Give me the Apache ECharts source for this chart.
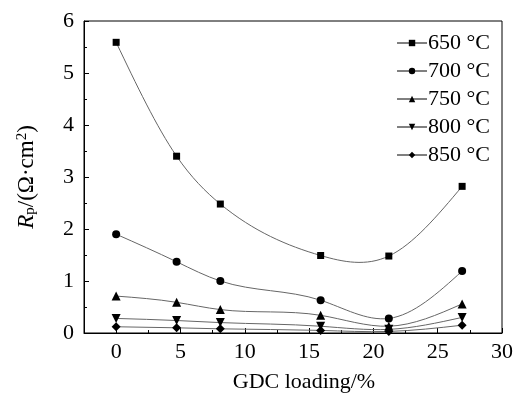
<!DOCTYPE html>
<html>
<head>
<meta charset="utf-8">
<script src="https://cdn.jsdelivr.net/npm/echarts@6/dist/echarts.min.js"></script>
<style>
html, body { margin: 0; padding: 0; background: #fff; }
#chart { width: 521px; height: 399px; }
</style>
</head>
<body>
<div id="chart"></div>
<script>
// GDC loading (%) for each sample
var loading = [0, 4.7, 8.1, 15.9, 21.2, 26.9];
var temps = ['650 °C', '700 °C', '750 °C', '800 °C', '850 °C'];
var rp650 = [5.59, 3.40, 2.48, 1.49, 1.48, 2.82];
var rp700 = [1.90, 1.37, 1.00, 0.63, 0.28, 1.19];
var rp750 = [0.71, 0.59, 0.45, 0.34, 0.13, 0.56];
var rp800 = [0.28, 0.24, 0.20, 0.13, 0.07, 0.30];
var rp850 = [0.12, 0.10, 0.08, 0.05, 0.03, 0.15];
var xMajor = [0, 5, 10, 15, 20, 25, 30];
var xMinor = [-2.5, 2.5, 7.5, 12.5, 17.5, 22.5, 27.5];

var symbols = ['rect', 'circle', 'triangle', 'triangle', 'diamond'];
var sizes = [7, 8, 9, 9, 9];
var rotates = [0, 0, 0, 180, 0];

function pairs(ys) {
    var out = [];
    for (var i = 0; i < loading.length; i++) {
        out.push([loading[i], ys[i]]);
    }
    return out;
}

// natural cubic spline through the pixel points, as a bezier path
function splinePath(pts) {
    var n = pts.length, h = [], M = [], a = [], b = [], c = [], d = [];
    for (var i = 0; i < n - 1; i++) h.push(pts[i + 1][0] - pts[i][0]);
    for (var i = 0; i < n; i++) {
        if (i == 0 || i == n - 1) { a[i] = 0; b[i] = 1; c[i] = 0; d[i] = 0; continue; }
        a[i] = h[i - 1];
        b[i] = 2 * (h[i - 1] + h[i]);
        c[i] = h[i];
        d[i] = 6 * ((pts[i + 1][1] - pts[i][1]) / h[i] - (pts[i][1] - pts[i - 1][1]) / h[i - 1]);
    }
    for (var i = 1; i < n; i++) {
        var w = a[i] / b[i - 1];
        b[i] -= w * c[i - 1];
        d[i] -= w * d[i - 1];
    }
    M[n - 1] = d[n - 1] / b[n - 1];
    for (var i = n - 2; i >= 0; i--) M[i] = (d[i] - c[i] * M[i + 1]) / b[i];
    var p = 'M' + pts[0][0] + ' ' + pts[0][1];
    for (var i = 0; i < n - 1; i++) {
        var s = (pts[i + 1][1] - pts[i][1]) / h[i];
        var m0 = s - h[i] * (2 * M[i] + M[i + 1]) / 6;
        var m1 = s + h[i] * (M[i] + 2 * M[i + 1]) / 6;
        var k = h[i] / 3;
        p += ' C' + (pts[i][0] + k) + ' ' + (pts[i][1] + k * m0) + ' ' +
            (pts[i + 1][0] - k) + ' ' + (pts[i + 1][1] - k * m1) + ' ' +
            pts[i + 1][0] + ' ' + pts[i + 1][1];
    }
    return p;
}

function curveSeries(ys) {
    return {
        type: 'custom',
        z: 1,
        silent: true,
        data: pairs(ys),
        renderItem: function (params, api) {
            if (params.dataIndex !== 0) return null;
            var pts = [];
            for (var j = 0; j < loading.length; j++) pts.push(api.coord([loading[j], ys[j]]));
            return {
                type: 'path',
                shape: { pathData: splinePath(pts) },
                style: { fill: null, stroke: '#666', lineWidth: 1 }
            };
        }
    };
}

var font = 'Liberation Serif';
var allRp = [rp650, rp700, rp750, rp800, rp850];
var series = [];
for (var i = 0; i < temps.length; i++) {
    series.push(curveSeries(allRp[i]));
    series.push({
        name: temps[i],
        type: 'line',
        z: 2,
        symbol: symbols[i],
        symbolSize: sizes[i],
        symbolRotate: rotates[i],
        showAllSymbol: true,
        itemStyle: { color: '#000' },
        lineStyle: { width: 0, opacity: 0 },
        data: pairs(allRp[i])
    });
}

var myChart = echarts.init(document.getElementById('chart'));
var option = {
    animation: false,
    grid: {
        left: 84, top: 21, right: 19, bottom: 66,
        show: true, borderColor: '#000', borderWidth: 1
    },
    legend: {
        orient: 'vertical',
        right: 26,
        top: 27,
        itemGap: 6,
        itemWidth: 30,
        itemHeight: 8,
        textStyle: { fontFamily: font, fontSize: 22, color: '#000', padding: [0, 0, 0, -4] },
        lineStyle: { color: '#000', width: 1, opacity: 1 },
        data: temps
    },
    xAxis: [{
        type: 'value',
        min: -2.5, max: 30,
        name: 'GDC loading/%',
        nameLocation: 'middle',
        nameGap: 38,
        nameTextStyle: { fontFamily: font, fontSize: 22, color: '#000', padding: [0, 0, 0, 22] },
        axisLine: { onZero: false, lineStyle: { color: '#000' } },
        axisTick: { inside: true, length: 5, customValues: xMajor, lineStyle: { color: '#000' } },
        splitLine: { show: false },
        axisLabel: {
            fontFamily: font, fontSize: 22, color: '#000', margin: 8,
            customValues: xMajor
        }
    }, {
        // minor ticks halfway between the labelled ones
        type: 'value',
        position: 'bottom',
        min: -2.5, max: 30,
        axisLine: { show: false, onZero: false },
        axisTick: { inside: true, length: 3, customValues: xMinor, lineStyle: { color: '#000' } },
        axisLabel: { show: false },
        splitLine: { show: false }
    }],
    yAxis: {
        type: 'value',
        min: 0, max: 6,
        interval: 1,
        name: '{i|R}{s|p}{n|/(Ω·cm}{u|2}{n|)}',
        nameLocation: 'middle',
        nameGap: 46,
        nameRotate: 90,
        nameTextStyle: {
            fontFamily: font, fontSize: 23, color: '#000',
            rich: {
                i: { fontFamily: font, fontSize: 23, fontStyle: 'italic', color: '#000' },
                s: { fontFamily: font, fontSize: 15, color: '#000', verticalAlign: 'bottom', padding: [8, 0, 0, 0] },
                n: { fontFamily: font, fontSize: 23, color: '#000' },
                u: { fontFamily: font, fontSize: 15, color: '#000', verticalAlign: 'top', padding: [0, 0, 8, 0] }
            }
        },
        axisLine: { onZero: false, lineStyle: { color: '#000' } },
        axisTick: { inside: true, length: 5, lineStyle: { color: '#000' } },
        minorTick: { show: true, splitNumber: 2, length: 3, lineStyle: { color: '#000' } },
        splitLine: { show: false },
        axisLabel: { fontFamily: font, fontSize: 22, color: '#000', margin: 10 }
    },
    series: series
};
myChart.setOption(option);
</script>
</body>
</html>
